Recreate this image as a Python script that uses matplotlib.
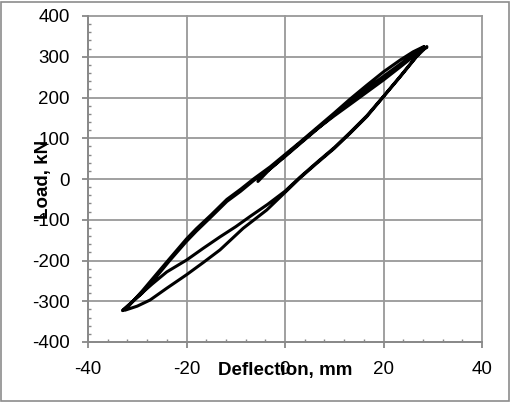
import matplotlib
matplotlib.use('Agg')
import matplotlib.pyplot as plt
from matplotlib.ticker import MultipleLocator
from matplotlib.patches import Rectangle
import numpy as np

plt.rcParams['font.family'] = ['Liberation Sans', 'DejaVu Sans']
plt.rcParams['axes.unicode_minus'] = False

# ---- data (deflection mm, load kN) ----
load1_x = [-5.5, -3.0, 0.0, 3.0, 6.4, 10.0, 13.2, 16.6, 20.0, 23.4, 26.0, 28.2]
load1_y = [-6, 25, 57, 88, 122, 155, 183, 213, 243, 275, 300, 324]

unload1_x = [28.2, 26.0, 23.4, 20.0, 16.6, 13.2, 10.0, 6.4, 3.0, 0.0, -3.0, -6.4, -9.0,
             -11.8, -15.0, -18.0, -20.0, -23.4, -26.0, -29.0, -32.5]
unload1_y = [325, 312, 292, 263, 230, 196, 162, 125, 90, 60, 30, 0, -25,
             -50, -88, -122, -147, -195, -232, -275, -322]

reload1_x = [-32.5, -30.0, -27.4, -24.0, -20.0, -16.6, -13.2, -8.5, -3.7, 0.0, 3.0, 6.4,
             10.0, 13.2, 16.6, 20.0, 23.4, 26.7, 28.8]
reload1_y = [-322, -312, -297, -268, -235, -205, -174, -121, -76, -33, 2, 38,
             75, 112, 153, 202, 251, 300, 325]

unload2_x = [28.8, 26.0, 23.4, 20.0, 16.6, 13.2, 10.0, 6.4, 3.0, 0.0, -3.0, -6.4, -9.0,
             -11.8, -15.0, -18.0, -20.0, -23.4, -26.0, -29.0, -33.0]
unload2_y = [323, 305, 282, 252, 222, 190, 158, 121, 86, 55, 25, -4, -30,
             -55, -93, -128, -153, -200, -238, -280, -323]

reload2_x = [-33.0, -30.0, -27.0, -24.0, -20.0, -16.6, -13.2, -10.0, -7.1, -3.5, 0.0, 3.0,
             6.4, 10.0, 13.2, 16.6, 20.0, 23.4, 26.7, 28.2]
reload2_y = [-323, -290, -258, -228, -199, -170, -142, -117, -92, -62, -30, 4,
             40, 77, 114, 155, 203, 252, 301, 324]

x_ticks = [-40, -20, 0, 20, 40]
y_ticks = [-400, -300, -200, -100, 0, 100, 200, 300, 400]

# ---- figure ----
fig = plt.figure(figsize=(5.11, 4.03), dpi=100)
fig.patches.append(Rectangle((0.002, 0.004), 0.994, 0.99, transform=fig.transFigure,
                             fill=False, edgecolor='#8c8c8c', lw=1.2))
ax = fig.add_axes([88/511, 61/403, 394/511, 326/403])

x = np.concatenate([load1_x, unload1_x, reload1_x, unload2_x, reload2_x])
y = np.concatenate([load1_y, unload1_y, reload1_y, unload2_y, reload2_y])
ax.plot(x, y, color='black', lw=2.2, solid_joinstyle='round', solid_capstyle='round', zorder=3)

ax.set_xlim(-40, 40)
ax.set_ylim(-400, 400)
ax.set_xticks(x_ticks)
ax.set_yticks(y_ticks)
ax.xaxis.set_minor_locator(MultipleLocator(4))
ax.yaxis.set_minor_locator(MultipleLocator(20))
ax.grid(True, which='major', color='#999999', lw=1.3)
ax.set_axisbelow(True)
for l in ax.get_xgridlines() + ax.get_ygridlines():
    l.set_clip_on(False)

for s in ['top', 'right']:
    ax.spines[s].set_visible(False)
for s in ['left', 'bottom']:
    ax.spines[s].set_color('#888888')
    ax.spines[s].set_linewidth(1.3)

ax.tick_params(which='major', direction='out', length=4, width=1.3, color='#888888',
               labelsize=13.5, labelcolor='black')
ax.tick_params(axis='x', which='major', pad=10)
ax.tick_params(axis='y', which='major', pad=9)
ax.tick_params(which='minor', direction='in', length=2.5, width=1.0, color='#888888')

ax.set_xlabel('Deflection, mm', fontsize=13.5, fontweight='bold')
ax.xaxis.set_label_coords(0.5, -0.086)
ax.xaxis.label.set_va('center')
ax.set_ylabel('Load, kN', fontsize=13.5, fontweight='bold')
ax.yaxis.set_label_coords(-0.114, 0.5)
ax.yaxis.label.set_va('center')

fig.savefig('out.png', dpi=100)
